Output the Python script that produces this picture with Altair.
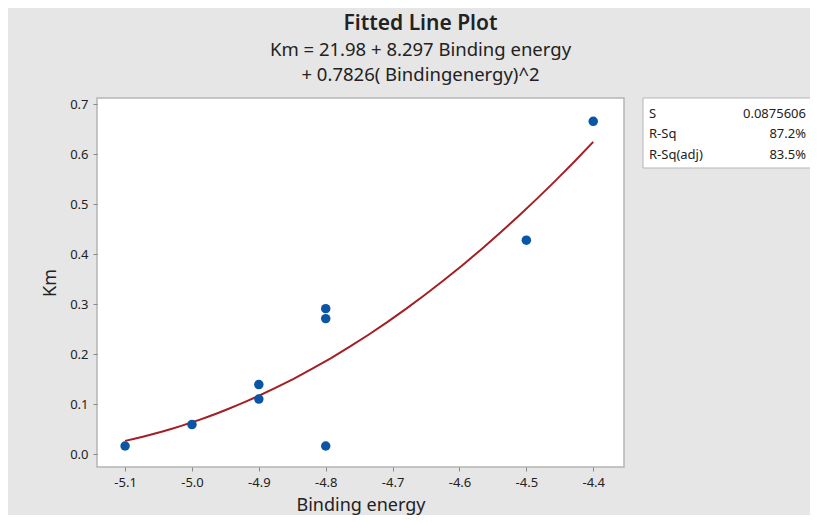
import altair as alt
import pandas as pd

binding_energy = [-5.1, -5.0, -4.9, -4.9, -4.8, -4.8, -4.8, -4.5, -4.4]
km = [0.016, 0.059, 0.139, 0.110, 0.291, 0.271, 0.016, 0.428, 0.666]

stat_names = ["S", "R-Sq", "R-Sq(adj)"]
stat_values = ["0.0875606", "87.2%", "83.5%"]

x_ticks = [-5.1, -5.0, -4.9, -4.8, -4.7, -4.6, -4.5, -4.4]
y_ticks = [0.0, 0.1, 0.2, 0.3, 0.4, 0.5, 0.6, 0.7]

df = pd.DataFrame({"x": binding_energy, "y": km})

FONT = "Noto Sans"
W, H = 527, 369

xs = alt.Scale(domain=[-5.142, -4.354], nice=False, zero=False)
ys = alt.Scale(domain=[-0.026, 0.7126], nice=False, zero=False)

x_axis = alt.Axis(
    values=x_ticks, grid=False, domain=False, tickSize=4, tickColor="#888",
    labelPadding=5, labelFontSize=13, labelColor="#222", labelFont=FONT,
    labelExpr="replace(format(datum.value, '.1f'), '\u2212', '-')",
    title="Binding energy", titleFont=FONT, titleFontSize=18, titleFontWeight="normal",
    titleColor="#222", titleX=W / 2, titleY=38, titleBaseline="middle", titleAlign="center",
)
y_axis = alt.Axis(
    values=y_ticks, grid=False, domain=False, tickSize=4, tickColor="#888",
    labelPadding=5, labelFontSize=13, labelColor="#222", labelFont=FONT,
    format=".1f",
    title="Km", titleFont=FONT, titleFontSize=18, titleFontWeight="normal",
    titleColor="#222", titleX=-47, titleY=H / 2, titleBaseline="middle", titleAlign="center",
    titleAngle=270,
)

base = alt.Chart(df)

fit = base.transform_regression("x", "y", method="poly", order=2).mark_line(
    color="#a31f24", strokeWidth=2
).encode(x=alt.X("x:Q", scale=xs, axis=x_axis), y=alt.Y("y:Q", scale=ys, axis=y_axis))

points = base.mark_circle(size=90, color="#0b55a6", opacity=1).encode(
    x=alt.X("x:Q", scale=xs), y=alt.Y("y:Q", scale=ys)
)

one = pd.DataFrame({"a": [0]})
box = alt.Chart(one).mark_rect(fill="white", stroke="#b5b5b5", strokeWidth=1).encode(
    x=alt.value(546), x2=alt.value(715), y=alt.value(0), y2=alt.value(70)
)

layers = [fit, points, box]
row_y = [16, 36, 57]
for name, val, yy in zip(stat_names, stat_values, row_y):
    d = pd.DataFrame({"n": [name], "v": [val]})
    layers.append(
        alt.Chart(d).mark_text(align="left", baseline="middle", font=FONT, fontSize=13, color="#222").encode(
            x=alt.value(552), y=alt.value(yy), text="n:N"
        )
    )
    layers.append(
        alt.Chart(d).mark_text(align="right", baseline="middle", font=FONT, fontSize=13, color="#222").encode(
            x=alt.value(709), y=alt.value(yy), text="v:N"
        )
    )

chart = alt.layer(*layers).properties(
    width=W,
    height=H,
    background="#e6e6e6",
    autosize=alt.AutoSizeParams(type="none"),
    padding={"left": 89, "top": 90, "right": 186, "bottom": 48},
    title=alt.TitleParams(
        text="Fitted Line Plot",
        subtitle=["Km = 21.98 + 8.297 Binding energy", "+ 0.7826( Bindingenergy)^2"],
        font=FONT, fontSize=21, fontWeight=600, color="#222",
        subtitleFont=FONT, subtitleFontSize=18.5, subtitleColor="#222", subtitleLineHeight=25,
        subtitlePadding=7, anchor="middle", dx=60, offset=13,
    ),
).configure_view(stroke="#b5b5b5", strokeWidth=1.5, fill="white")

chart.save("out.html", embed_options={"renderer": "svg", "actions": False})
